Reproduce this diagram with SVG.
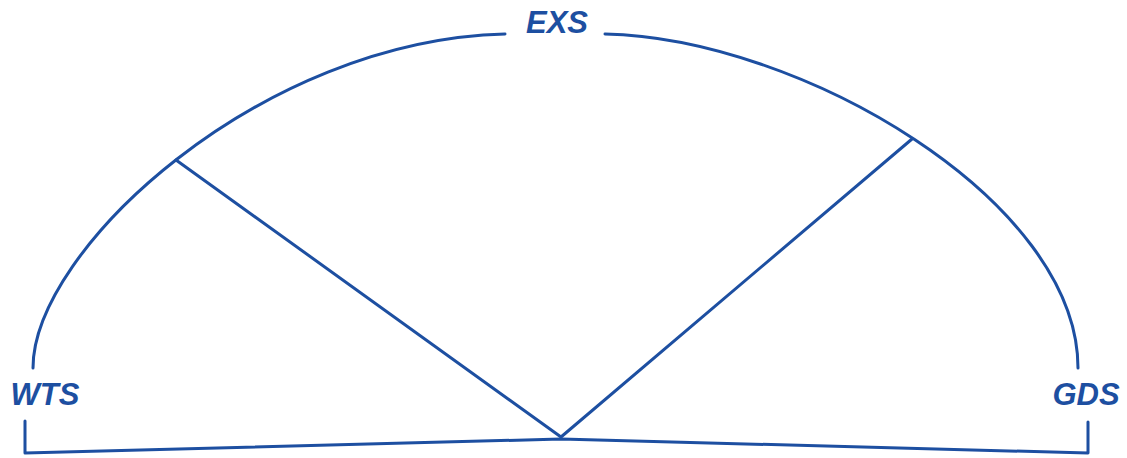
<svg xmlns="http://www.w3.org/2000/svg" width="1127" height="458" viewBox="0 0 1127 458">
<style>
.ln{fill:none;stroke:#1d4fa1;stroke-width:3;stroke-linecap:round;stroke-linejoin:round}
.lb{font-family:"Liberation Sans",Arial,sans-serif;font-style:italic;font-weight:bold;font-size:31px;fill:#1d4fa1;text-anchor:middle}
</style>
<rect width="1127" height="458" fill="#ffffff"/>
<g id="connectors">
<path class="ln" d="M33,368 C33,250 260,40 505,34"/>
<path class="ln" d="M605,34 C800,38 1078,200 1078,368"/>
<path class="ln" d="M176,160 L561,437 L912,139"/>
<path class="ln" d="M25,421 L25,453 L561,439 L1088,453 L1088,422"/>
</g>
<g id="node-exs"><text class="lb" x="557" y="33">EXS</text></g>
<g id="node-wts"><text class="lb" x="45" y="405">WTS</text></g>
<g id="node-gds"><text class="lb" x="1086" y="405">GDS</text></g>
</svg>
